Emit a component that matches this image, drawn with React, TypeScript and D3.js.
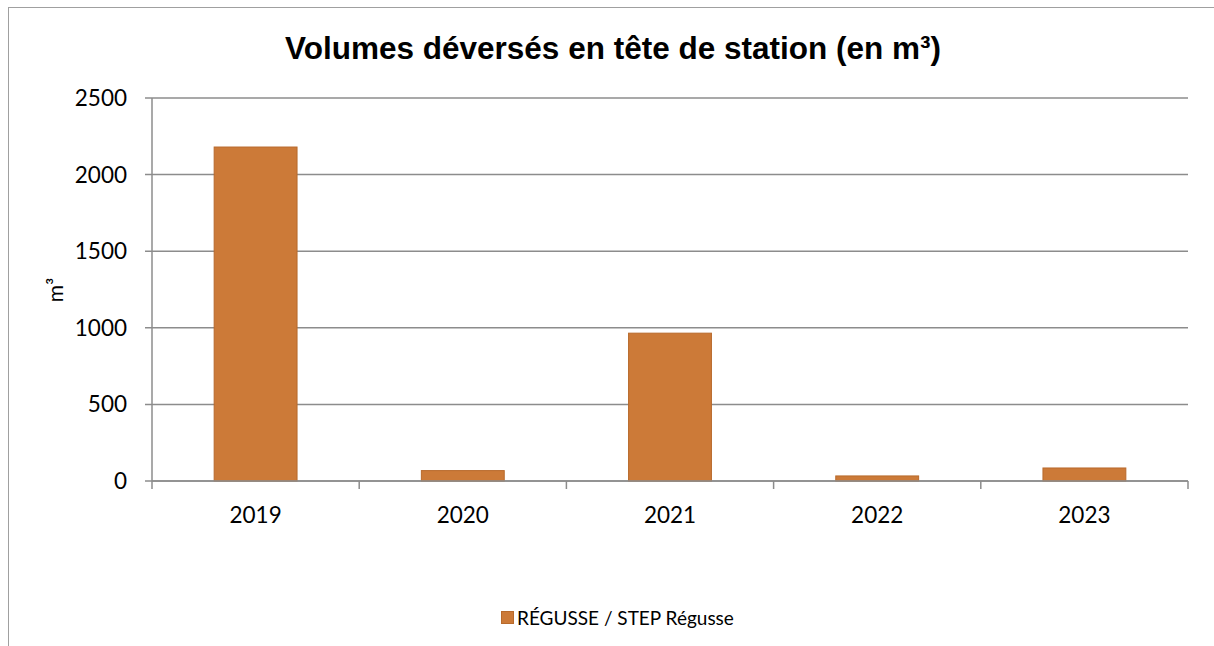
import React from "react";
import * as d3 from "d3";

const categories = ["2019", "2020", "2021", "2022", "2023"];
const values = [2180, 68, 965, 33, 85];
const yTicks = [0, 500, 1000, 1500, 2000, 2500];
const seriesName = "RÉGUSSE / STEP Régusse";
const title = "Volumes déversés en tête de station (en m³)";

export default function App() {
  const W = 1214, H = 646;
  const left = 152, right = 1188, top = 98, bottom = 481;
  const x = d3.scaleBand<string>().domain(categories).range([left, right]).paddingInner(0.6).paddingOuter(0.3);
  const xb = d3.scaleBand<string>().domain(categories).range([left, right]);
  const y = d3.scaleLinear().domain([0, 2500]).range([bottom, top]);
  const grid = "#8c8c8c";
  const font = "Lato, 'Open Sans', sans-serif";
  return (
    <div style={{ position: "absolute", left: 0, top: 0 }}>
      <svg width={W} height={H} style={{ display: "block" }}>
        <rect x={0} y={0} width={W} height={H} fill="#fff" />
        <rect x={8.5} y={7.5} width={1210} height={700} fill="none" stroke="#a0a0a0" strokeWidth={1} />
        <text x={613} y={59} textAnchor="middle" fontFamily="'Liberation Sans', Arial, sans-serif" fontWeight="bold" fontSize={31.5} fill="#000">{title}</text>
        {yTicks.map((t) => (
          <g key={t}>
            <line x1={left - 7} x2={right} y1={y(t)} y2={y(t)} stroke={grid} strokeWidth={1.5} />
            <text x={127} y={y(t) + 8} textAnchor="end" fontFamily={font} fontSize={22.5} fill="#000">{t}</text>
          </g>
        ))}
        <line x1={left} x2={left} y1={top} y2={bottom} stroke={grid} strokeWidth={1.5} />
        {categories.map((c) => (
          <line key={"t" + c} x1={xb(c)! + xb.bandwidth()} x2={xb(c)! + xb.bandwidth()} y1={bottom} y2={bottom + 8} stroke={grid} strokeWidth={1.5} />
        ))}
        <line x1={left} x2={left} y1={bottom} y2={bottom + 8} stroke={grid} strokeWidth={1.5} />
        {categories.map((c, i) => (
          <rect key={c} x={x(c)!} y={y(values[i])} width={x.bandwidth()} height={bottom - y(values[i])} fill="#cc7a38" stroke="#b86a2c" strokeWidth={1} />
        ))}
        <line x1={left} x2={right} y1={bottom} y2={bottom} stroke={grid} strokeWidth={1.5} />
        {categories.map((c) => (
          <text key={"l" + c} x={xb(c)! + xb.bandwidth() / 2} y={523} textAnchor="middle" fontFamily={font} fontSize={22.5} fill="#000">{c}</text>
        ))}
        <text transform="translate(63,290) rotate(-90)" textAnchor="middle" fontFamily={font} fontSize={21} fill="#000">m³</text>
        <rect x={501.5} y={611.5} width={12} height={12} fill="#cc7a38" stroke="#b86a2c" strokeWidth={1} />
        <text x={517} y={625} fontFamily={font} fontSize={19} fill="#000">{seriesName}</text>
      </svg>
    </div>
  );
}
